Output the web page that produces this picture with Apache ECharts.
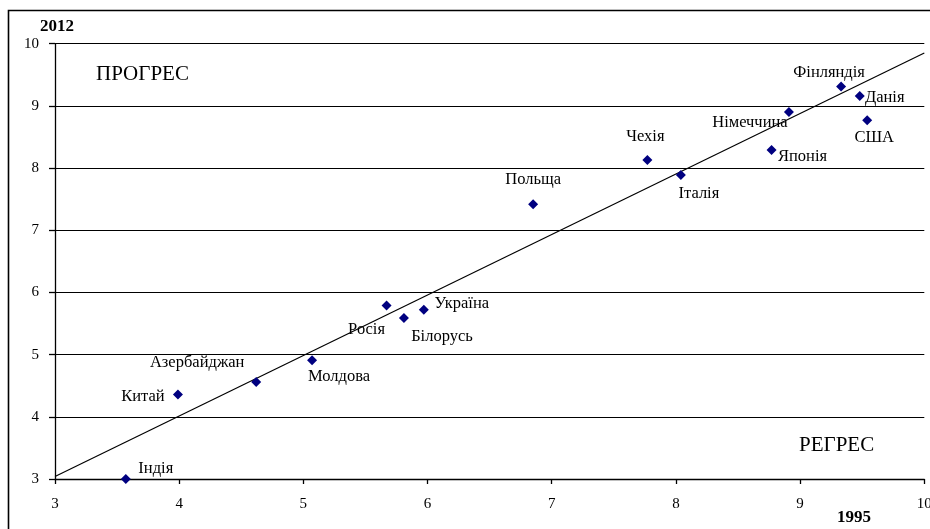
<!DOCTYPE html>
<html>
<head>
<meta charset="utf-8">
<script src="https://cdn.jsdelivr.net/npm/echarts@6/dist/echarts.min.js"></script>
<style>
html,body{margin:0;padding:0;background:#fff;}
#chart{width:930px;height:529px;}
</style>
</head>
<body>
<div id="chart"></div>
<script>
// ---- data ----
const countries = ['Індія','Китай','Азербайджан','Молдова','Росія','Білорусь','Україна','Польща','Чехія','Італія','Німеччина','Японія','Фінляндія','Данія','США'];
const values1995 = [3.57, 3.99, 4.62, 5.07, 5.67, 5.81, 5.97, 6.85, 7.77, 8.04, 8.91, 8.77, 9.33, 9.48, 9.54];
const values2012 = [3.00, 4.36, 4.56, 4.91, 5.79, 5.59, 5.72, 7.42, 8.13, 7.89, 8.90, 8.29, 9.31, 9.16, 8.77];
const trendX = [3, 10];
const trendY = [3.04, 9.85];
const xAxisName = '1995';
const yAxisName = '2012';
const zoneLabels = ['ПРОГРЕС', 'РЕГРЕС'];

// ---- label placement (style only) ----
const labelOffsets = {
  'Індія':[30,-10], 'Китай':[-35,2], 'Азербайджан':[-59,-19], 'Молдова':[27,16],
  'Росія':[-20,24], 'Білорусь':[38,19], 'Україна':[38,-6], 'Польща':[0,-24],
  'Чехія':[-2,-23], 'Італія':[18,19], 'Німеччина':[-39,11], 'Японія':[31,7],
  'Фінляндія':[-12,-14], 'Данія':[25,2], 'США':[7,17]
};

const FONT = '"Liberation Serif","Times New Roman",serif';

const points = countries.map((c, i) => ({
  name: c,
  value: [values1995[i], values2012[i]],
  label: { offset: labelOffsets[c] }
}));

const chart = echarts.init(document.getElementById('chart'), null, {renderer: 'canvas'});
chart.setOption({
  animation: false,
  backgroundColor: '#fff',
  grid: { left: 55, top: 43.7, right: 5.7, bottom: 50, containLabel: false, outerBoundsMode: 'none' },
  xAxis: {
    type: 'value', min: 3, max: 10, interval: 1,
    axisLine: { show: true, onZero: false, lineStyle: { color: '#000', width: 1.3 } },
    axisTick: { show: true, length: 5, lineStyle: { color: '#000', width: 1.3 } },
    axisLabel: { color: '#000', fontFamily: FONT, fontSize: 15, margin: 18 },
    splitLine: { show: false }
  },
  yAxis: {
    type: 'value', min: 3, max: 10, interval: 1,
    axisLine: { show: true, onZero: false, lineStyle: { color: '#000', width: 1.3 } },
    axisTick: { show: true, length: 6, lineStyle: { color: '#000', width: 1.3 } },
    axisLabel: { color: '#000', fontFamily: FONT, fontSize: 15, margin: 16 },
    splitLine: { show: true, lineStyle: { color: '#000', width: 1.2 } }
  },
  series: [
    {
      type: 'line',
      data: trendX.map((x, i) => [x, trendY[i]]),
      symbol: 'none',
      lineStyle: { color: '#000', width: 1.2 },
      silent: true,
      z: 2
    },
    {
      type: 'scatter',
      data: points,
      symbol: 'diamond',
      symbolSize: 10,
      itemStyle: { color: '#000080', opacity: 1 },
      label: {
        show: true,
        position: 'inside',
        align: 'center',
        verticalAlign: 'middle',
        formatter: p => p.name,
        color: '#000',
        textBorderWidth: 0,
        fontFamily: FONT,
        fontSize: 16.5
      },
      z: 3
    }
  ],
  graphic: [
    { type: 'rect', shape: { x: 8.5, y: 10.5, width: 1000, height: 1000 }, style: { fill: 'none', stroke: '#000', lineWidth: 1.6 }, silent: true },
    { type: 'text', left: 40, top: 18, style: { text: yAxisName, font: 'bold 17px ' + FONT, fill: '#000' } },
    { type: 'text', left: 837, top: 509, style: { text: xAxisName, font: 'bold 17px ' + FONT, fill: '#000' } },
    { type: 'text', left: 96, top: 64, style: { text: zoneLabels[0], font: '21px ' + FONT, fill: '#000' } },
    { type: 'text', left: 799, top: 435, style: { text: zoneLabels[1], font: '21px ' + FONT, fill: '#000' } }
  ]
});
</script>
</body>
</html>
